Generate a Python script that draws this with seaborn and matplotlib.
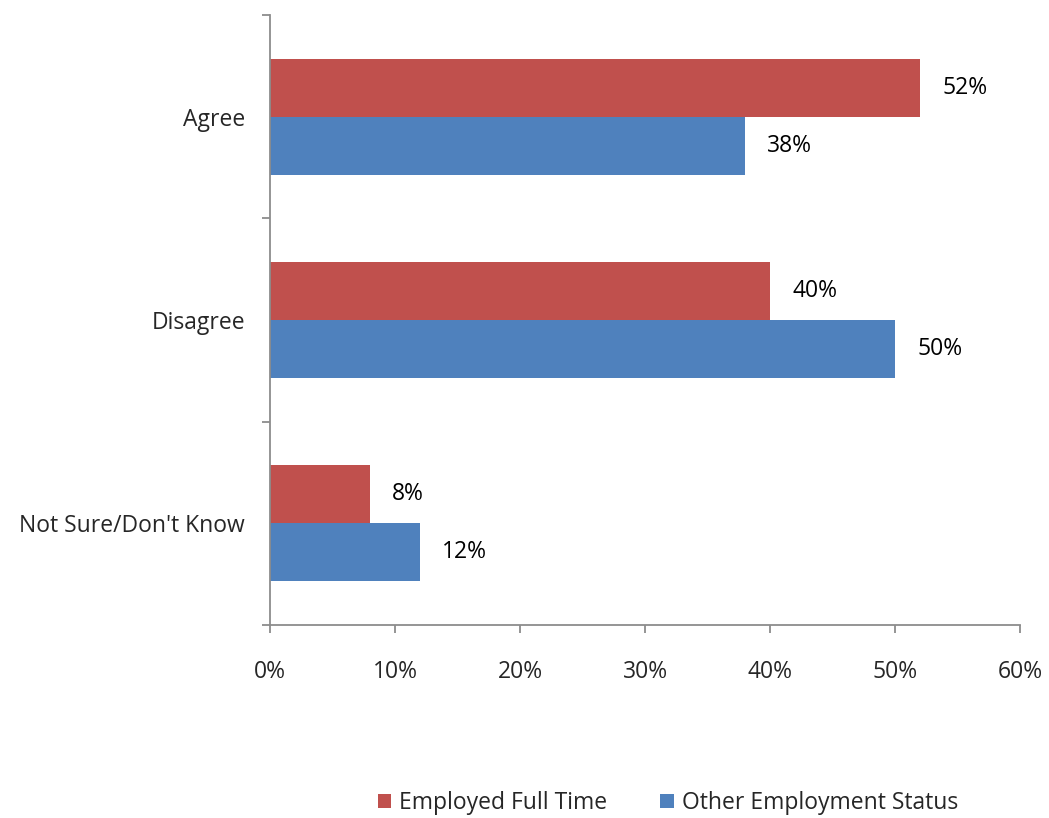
import matplotlib
matplotlib.use("Agg")
import matplotlib.pyplot as plt
import seaborn as sns
import pandas as pd
from matplotlib.ticker import FixedLocator, PercentFormatter
from matplotlib.patches import Patch

categories = ["Agree", "Disagree", "Not Sure/Don't Know"]
series_names = ["Employed Full Time", "Other Employment Status"]
employed_full_time = [52, 40, 8]
other_status = [38, 50, 12]
x_ticks = [0, 10, 20, 30, 40, 50, 60]

colors = ["#C0504D", "#4F81BD"]
FS = 16.5

sns.set_theme(style="white")
plt.rcParams['font.family'] = ['Open Sans', 'DejaVu Sans']

df = pd.DataFrame({
    "category": categories * 2,
    "series": [series_names[0]] * 3 + [series_names[1]] * 3,
    "value": employed_full_time + other_status,
})

fig = plt.figure(figsize=(10.49, 8.18), dpi=100)
ax = fig.add_axes([270/1049, 1 - 625/818, 750/1049, 610/818])

sns.barplot(data=df, y="category", x="value", hue="series", order=categories,
            hue_order=series_names, palette=colors, orient="h", width=0.57,
            gap=0, saturation=1, linewidth=0, legend=False, ax=ax)

for cont in ax.containers:
    ax.bar_label(cont, labels=[f"{v:.0f}%" for v in cont.datavalues],
                 padding=16, fontsize=FS, color="black")

ax.set_xlim(0, 60)
ax.set_ylim(2.5, -0.5)
ax.xaxis.set_major_locator(FixedLocator(x_ticks))
ax.xaxis.set_major_formatter(PercentFormatter(decimals=0))
ax.set_xlabel("")
ax.set_ylabel("")

for s in ["top", "right"]:
    ax.spines[s].set_visible(False)
for s in ["left", "bottom"]:
    ax.spines[s].set_color("#8C8C8C")
    ax.spines[s].set_linewidth(1.3)

ax.yaxis.set_minor_locator(FixedLocator([-0.5, 0.5, 1.5, 2.5]))
ax.tick_params(axis="y", which="major", length=0, pad=18, labelsize=FS)
ax.tick_params(axis="y", which="minor", left=True, length=6, width=1.3, color="#8C8C8C", direction="out")
ax.tick_params(axis="x", which="major", bottom=True, length=6, width=1.3, color="#8C8C8C",
               direction="out", pad=19, labelsize=FS)

handles = [Patch(facecolor=c, edgecolor="none") for c in colors]
fig.legend(handles, series_names, loc="center", bbox_to_anchor=(668/1049, 1 - 803/818),
           ncol=2, frameon=False, fontsize=FS, handlelength=0.6, handleheight=0.6,
           handletextpad=0.35, columnspacing=2.3)

fig.savefig("out.png", dpi=100)
